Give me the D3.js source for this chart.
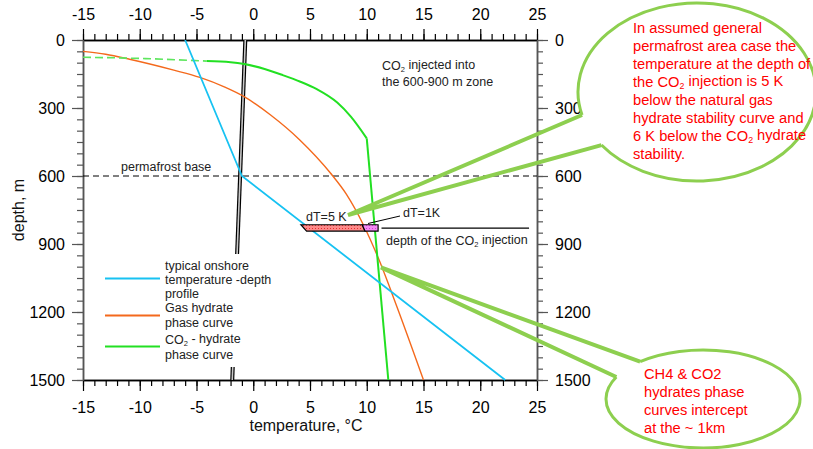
<!DOCTYPE html>
<html>
<head>
<meta charset="utf-8">
<script src="https://cdn.jsdelivr.net/npm/d3@7"></script>
<style>
  body { margin: 0; background: #fff; }
  svg { font-family: "Liberation Sans", Arial, sans-serif; }
</style>
</head>
<body>
<div id="chart"></div>
<script>
// axis ticks
const tempTicks = [-15, -10, -5, 0, 5, 10, 15, 20, 25];
const depthTicks = [0, 300, 600, 900, 1200, 1500];

// curves: [temperature °C, depth m]
const onshoreProfile = [[-6, 0], [-1, 600], [22.2, 1500]];
const gasHydrate = [[-15, 50], [-13, 63], [-10.9, 85], [-7, 133], [-4.7, 165], [-2.5, 208], [-0.8, 250],
  [1.5, 330], [4.1, 441], [6.8, 587], [8.2, 680], [9.7, 815], [11.0, 960], [12.6, 1169], [15.0, 1500]];
const co2HydrateDashed = [[-15, 76], [-9.5, 82], [-4.1, 93]];
const co2HydrateCurve = [[-4.1, 93], [-2, 98], [-0.8, 106], [1, 128], [2.6, 155], [4.1, 183], [5.6, 217],
  [7.4, 276], [8.6, 338], [10.0, 434]];
const co2HydrateLine = [[10.0, 434], [11.9, 1500]];
const doubleLine = [[-0.7, 0], [-1.85, 1500]];

const permafrostBase = 600;
const injectionDepth = 830;
const injectionLine = [11.3, 24.3];
// dT boxes: [tempTopLeft, tempBottomLeft, tempTopRight, tempBottomRight], depths
const dtDepths = [815, 843];
const dtRed = [4.2, 4.7, 9.6, 9.85];
const dtPink = [9.6, 9.85, 11.0, 11.0];

const legendItems = [
  { color: "#17c2f2", lines: ["typical onshore", "temperature -depth", "profile"] },
  { color: "#f4691c", lines: ["Gas hydrate", "phase curve"] },
  { color: "#22e022", lines: ["CO|2| - hydrate", "phase curve"] }
];

const topCallout = ["In assumed general", "permafrost area case the", "temperature at the depth of",
  "the CO|2| injection is 5 K", "below the natural gas", "hydrate stability curve and",
  "6 K below the CO|2| hydrate", "stability."];
const bottomCallout = ["CH4 & CO2", "hydrates phase", "curves intercept", "at the ~ 1km"];
const topTip = [8.35, 772];
const bottomTip = [11.25, 1003];

const W = 813, H = 449;
const svg = d3.select("#chart").append("svg").attr("width", W).attr("height", H);

const x = d3.scaleLinear().domain([-15, 25]).range([83, 537]);
const y = d3.scaleLinear().domain([0, 1500]).range([40, 380]);

const defs = svg.append("defs");
const pr = defs.append("pattern").attr("id", "dotsRed").attr("width", 3).attr("height", 3)
  .attr("patternUnits", "userSpaceOnUse");
pr.append("rect").attr("width", 3).attr("height", 3).attr("fill", "#ff8a8a");
pr.append("rect").attr("width", 1).attr("height", 1).attr("fill", "#e03030");
const pp = defs.append("pattern").attr("id", "dotsPink").attr("width", 3).attr("height", 3)
  .attr("patternUnits", "userSpaceOnUse");
pp.append("rect").attr("width", 3).attr("height", 3).attr("fill", "#f58af5");
pp.append("rect").attr("width", 1).attr("height", 1).attr("fill", "#d040d0");

// axes
const minorT = d3.range(-15, 26, 1);
const minorD = d3.range(0, 1501, 50);
const fmt = d => String(d);

function styleAxis(g, color) {
  g.select(".domain").attr("stroke", color).attr("stroke-width", 1.5);
  g.selectAll(".tick line").attr("stroke", color).attr("stroke-width", 1.2);
  g.selectAll(".tick text").attr("fill", "#000").style("font-size", "16px")
    .style("font-family", "Liberation Sans, Arial, sans-serif");
}

svg.append("g").attr("transform", "translate(0,40)")
  .call(d3.axisTop(x).tickValues(minorT).tickSize(6).tickSizeOuter(0).tickFormat(""))
  .call(g => styleAxis(g, "#000"));
svg.append("g").attr("transform", "translate(0,40)")
  .call(d3.axisTop(x).tickValues(tempTicks).tickSize(11).tickSizeOuter(0).tickPadding(9).tickFormat(fmt))
  .call(g => styleAxis(g, "#000"));
svg.append("g").attr("transform", "translate(0,380)")
  .call(d3.axisBottom(x).tickValues(minorT).tickSize(6).tickSizeOuter(0).tickFormat(""))
  .call(g => styleAxis(g, "#000"));
svg.append("g").attr("transform", "translate(0,380)")
  .call(d3.axisBottom(x).tickValues(tempTicks).tickSize(11).tickSizeOuter(0).tickPadding(11).tickFormat(fmt))
  .call(g => styleAxis(g, "#000"));
svg.append("g").attr("transform", "translate(83,0)")
  .call(d3.axisLeft(y).tickValues(minorD).tickSize(6).tickSizeOuter(0).tickFormat(""))
  .call(g => styleAxis(g, "#555"));
svg.append("g").attr("transform", "translate(83,0)")
  .call(d3.axisLeft(y).tickValues(depthTicks).tickSize(11).tickSizeOuter(0).tickPadding(7).tickFormat(fmt))
  .call(g => styleAxis(g, "#555"));
svg.append("g").attr("transform", "translate(537,0)")
  .call(d3.axisRight(y).tickValues(minorD).tickSize(6).tickSizeOuter(0).tickFormat(""))
  .call(g => styleAxis(g, "#555"));
svg.append("g").attr("transform", "translate(537,0)")
  .call(d3.axisRight(y).tickValues(depthTicks).tickSize(11).tickSizeOuter(0).tickPadding(7).tickFormat(fmt))
  .call(g => styleAxis(g, "#555"));

svg.append("text").attr("x", 306).attr("y", 431).attr("text-anchor", "middle")
  .style("font-size", "16px").attr("fill", "#111").text("temperature, °C");
svg.append("text").attr("transform", "translate(24,210) rotate(-90)").attr("text-anchor", "middle")
  .style("font-size", "16px").attr("fill", "#111").text("depth, m");

const line = d3.line().x(d => x(d[0])).y(d => y(d[1]));
const smooth = d3.line().x(d => x(d[0])).y(d => y(d[1])).curve(d3.curveMonotoneX);

// permafrost base
svg.append("line").attr("x1", 83).attr("x2", 537).attr("y1", y(permafrostBase)).attr("y2", y(permafrostBase))
  .attr("stroke", "#000").attr("stroke-dasharray", "6,4");
svg.append("text").attr("x", 121).attr("y", 171).style("font-size", "12.5px").attr("fill", "#222")
  .text("permafrost base");

// double line
svg.append("path").datum(doubleLine).attr("d", line).attr("fill", "none")
  .attr("stroke", "#000").attr("stroke-width", 4);
svg.append("path").datum(doubleLine).attr("d", line).attr("fill", "none")
  .attr("stroke", "#c8c8c8").attr("stroke-width", 1.6);

// curves
svg.append("path").datum(gasHydrate).attr("d", smooth).attr("fill", "none")
  .attr("stroke", "#f4691c").attr("stroke-width", 1.4);
svg.append("path").datum(co2HydrateDashed).attr("d", smooth).attr("fill", "none")
  .attr("stroke", "#5ee65e").attr("stroke-width", 1.6).attr("stroke-dasharray", "8,4");
svg.append("path").datum(co2HydrateCurve).attr("d", smooth).attr("fill", "none")
  .attr("stroke", "#22e022").attr("stroke-width", 2);
svg.append("path").datum(co2HydrateLine).attr("d", line).attr("fill", "none")
  .attr("stroke", "#22e022").attr("stroke-width", 2);
svg.append("path").datum(onshoreProfile).attr("d", line).attr("fill", "none")
  .attr("stroke", "#17c2f2").attr("stroke-width", 1.8);

// dT boxes
function box(t, fill) {
  const pts = [[t[0], dtDepths[0]], [t[2], dtDepths[0]], [t[3], dtDepths[1]], [t[1], dtDepths[1]]];
  svg.append("polygon").attr("points", pts.map(p => [x(p[0]), y(p[1])].join(",")).join(" "))
    .attr("fill", fill).attr("stroke", "#000").attr("stroke-width", 1.2);
}
box(dtRed, "url(#dotsRed)");
box(dtPink, "url(#dotsPink)");
svg.append("text").attr("x", 306).attr("y", 221).style("font-size", "12.5px").attr("fill", "#222").text("dT=5 K");
svg.append("text").attr("x", 403).attr("y", 216.5).style("font-size", "12.5px").attr("fill", "#222").text("dT=1K");
svg.append("line").attr("x1", 368).attr("y1", 223.5).attr("x2", 400).attr("y2", 216)
  .attr("stroke", "#000").attr("stroke-width", 1);

// injection depth
svg.append("line").attr("x1", x(injectionLine[0])).attr("x2", x(injectionLine[1]))
  .attr("y1", y(injectionDepth)).attr("y2", y(injectionDepth)).attr("stroke", "#000").attr("stroke-width", 1.2);

function richText(sel, str) {
  str.split("|").forEach((part, i) => {
    const t = sel.append("tspan").text(part);
    if (i % 2 === 1) t.attr("dy", "0.25em").style("font-size", "0.6em");
    else if (i > 0) t.attr("dy", "-0.25em");
  });
}
richText(svg.append("text").attr("x", 386).attr("y", 245).style("font-size", "12.5px").attr("fill", "#222"),
  "depth of the CO|2| injection");
richText(svg.append("text").attr("x", 382).attr("y", 70).style("font-size", "12.5px").attr("fill", "#222"),
  "CO|2| injected into");
svg.append("text").attr("x", 382).attr("y", 86).style("font-size", "12.5px").attr("fill", "#222")
  .text("the 600-900 m zone");

// legend
svg.append("rect").attr("x", 98).attr("y", 254).attr("width", 190).attr("height", 113).attr("fill", "#fff");
const legendY = [[270, 283.5, 297.5], [312, 326.5], [344, 358.5]];
const legendLineY = [278.5, 315.5, 346.5];
legendItems.forEach((d, i) => {
  svg.append("line").attr("x1", 105).attr("x2", 160).attr("y1", legendLineY[i]).attr("y2", legendLineY[i])
    .attr("stroke", d.color).attr("stroke-width", 2);
  d.lines.forEach((l, j) => {
    richText(svg.append("text").attr("x", 165).attr("y", legendY[i][j]).style("font-size", "12.5px")
      .attr("fill", "#222"), l);
  });
});

// callouts
function callout(cx, cy, rx, ry, a0, a1, tip) {
  const pt = a => [cx + rx * Math.cos(a * Math.PI / 180), cy + ry * Math.sin(a * Math.PI / 180)];
  const A = pt(a0), B = pt(a1);
  svg.append("path").attr("d", `M${A[0]},${A[1]} A${rx},${ry} 0 1 1 ${B[0]},${B[1]}`)
    .attr("fill", "#fff").attr("stroke", "#8dcf4f").attr("stroke-width", 3);
  svg.append("path").attr("d", `M${A[0]},${A[1]} L${x(tip[0])},${y(tip[1])} L${B[0]},${B[1]}`)
    .attr("fill", "none").attr("stroke", "#8dcf4f").attr("stroke-width", 4).attr("stroke-linejoin", "miter");
}
callout(697, 92, 119, 89, 165, 143.4, topTip);
callout(703, 399, 97, 49, 229.6, 206.7, bottomTip);

topCallout.forEach((l, i) => {
  richText(svg.append("text").attr("x", 633).attr("y", 33 + i * 18).style("font-size", "14.7px")
    .attr("fill", "#ff0000"), l);
});
bottomCallout.forEach((l, i) => {
  svg.append("text").attr("x", 644).attr("y", 379 + i * 18).style("font-size", "14.7px")
    .attr("fill", "#ff0000").text(l);
});
</script>
</body>
</html>
